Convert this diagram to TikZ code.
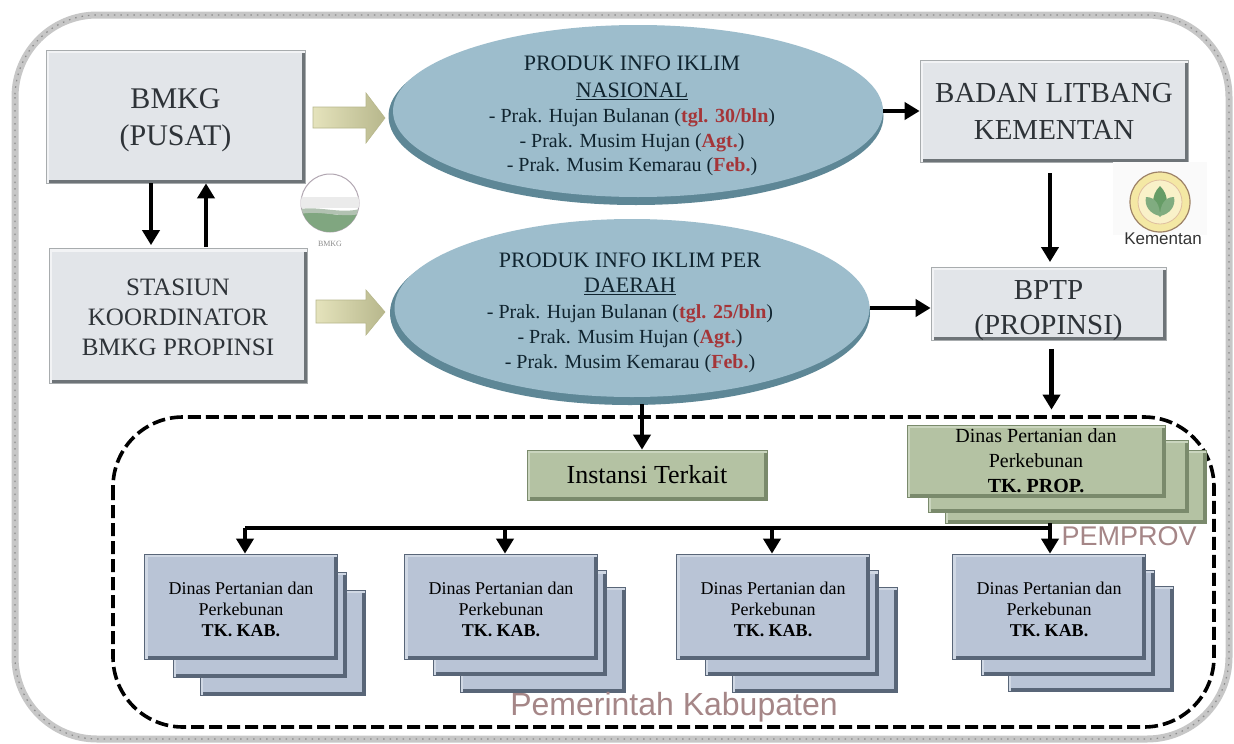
\documentclass[tikz,border=0pt]{standalone}
\usepackage{fontspec}
\setmainfont{Liberation Serif}
\newfontfamily\logosans{Liberation Sans}
\usetikzlibrary{shapes.geometric,arrows.meta,calc}
\definecolor{boxgray}{HTML}{E2E5E9}
\definecolor{boxedge}{HTML}{6E7478}
\definecolor{boxlight}{HTML}{F2F3F5}
\definecolor{ellfill}{HTML}{9DBDCC}
\definecolor{ellshadow}{HTML}{5E8796}
\definecolor{greenfill}{HTML}{B4C2A3}
\definecolor{greenedge}{HTML}{7A8A6C}
\definecolor{greenlight}{HTML}{CAD5BE}
\definecolor{bluefill}{HTML}{B9C4D6}
\definecolor{blueedge}{HTML}{596678}
\definecolor{bluelight}{HTML}{D0D8E4}
\definecolor{darktext}{HTML}{10242F}
\definecolor{boxtext}{HTML}{2E3338}
\definecolor{redtext}{HTML}{A53538}
\definecolor{arrowleft}{HTML}{E5E3BC}
\definecolor{arrowright}{HTML}{B7B78C}
\definecolor{labelpink}{HTML}{A58687}
\newcommand{\rd}[1]{\textbf{\textcolor{redtext}{#1}}}
\newcommand{\ttl}[1]{{\fontsize{22}{27}\selectfont #1}}
\tikzset{
  x=1pt,y=-1pt,
  bevelled/.style 2 args={path picture={
    \draw[line width=7pt,draw=#2] (path picture bounding box.north east) -- (path picture bounding box.south east) -- (path picture bounding box.south west);
    \draw[line width=6pt,draw=#1] (path picture bounding box.south west) -- (path picture bounding box.north west) -- (path picture bounding box.north east);
  }},
  graybox/.style={rectangle,inner sep=0pt,fill=boxgray,draw=boxedge!60,line width=.7pt,align=center,text=boxtext,bevelled={boxlight}{boxedge}},
  greenbox/.style={rectangle,inner sep=0pt,fill=greenfill,draw=greenedge,line width=.7pt,align=center,text=black,bevelled={greenlight}{greenedge}},
  bluebox/.style={rectangle,inner sep=0pt,fill=bluefill,draw=blueedge,line width=.7pt,align=center,text=black,bevelled={bluelight}{blueedge}},
  ellmain/.style={ellipse,inner sep=0pt,fill=ellfill},
  ellback/.style={ellipse,inner sep=0pt,fill=ellshadow},
  elltext/.style={inner sep=0pt,align=center,text=darktext},
  heavy/.style={line width=4.5pt,-{Triangle[length=15pt,width=17pt]},black},
  blockarrow/.style={left color=arrowleft,right color=arrowright,draw=arrowright,line width=.6pt},
  lbl/.style={inner sep=0pt,align=center},
}
\begin{document}
\begin{tikzpicture}
\useasboundingbox (0,0) rectangle (1234,744);
\fill[white] (0,0) rectangle (1234,744);
% outer frame
\draw[line width=7pt,draw=black!22,rounded corners=82pt] (15,15) rectangle (1229,739);
\draw[line width=1.2pt,draw=black!45,dash pattern=on 1.5pt off 5pt,rounded corners=82pt] (15,15) rectangle (1229,739);
% dashed region
\draw[line width=3.6pt,black,dash pattern=on 13pt off 5pt,rounded corners=70pt] (113,417) rectangle (1214,727);

% left boxes
\node[graybox,minimum width=259pt,minimum height=133pt,font=\fontsize{30}{37}\selectfont] (bmkg) at (175.5,116.5) {\rule{0pt}{28pt}BMKG\\(PUSAT)};
\node[graybox,minimum width=258pt,minimum height=135pt,font=\fontsize{25}{30}\selectfont] (stasiun) at (178,316) {\rule{0pt}{20pt}STASIUN\\KOORDINATOR\\BMKG PROPINSI};

% ellipses
\node[ellback,minimum width=495pt,minimum height=178pt] (e1s) at (636,116) {};
\node[ellmain,minimum width=490pt,minimum height=172pt] (e1) at (638,111) {};
\node[elltext,font=\fontsize{20}{24.5}\selectfont] (e1t) at (632,116) {\ttl{PRODUK INFO IKLIM}\\[2pt]\ttl{\underline{NASIONAL}}\\[1pt]- Prak. Hujan Bulanan (\rd{tgl. 30/bln})\\- Prak. Musim Hujan (\rd{Agt.})\\- Prak. Musim Kemarau (\rd{Feb.})};
\node[ellback,minimum width=480pt,minimum height=184pt] (e2s) at (630,313) {};
\node[ellmain,minimum width=475pt,minimum height=178pt] (e2) at (632,308) {};
\node[elltext,font=\fontsize{20}{25}\selectfont] (e2t) at (630,313) {\ttl{PRODUK INFO IKLIM PER}\\\ttl{\underline{DAERAH}}\\[1pt]- Prak. Hujan Bulanan (\rd{tgl. 25/bln})\\- Prak. Musim Hujan (\rd{Agt.})\\- Prak. Musim Kemarau (\rd{Feb.})};

% block arrows
\path[blockarrow] (313,107) -- (366,107) -- (366,93) -- (385,118) -- (366,143) -- (366,128) -- (313,128) -- cycle;
\path[blockarrow] (316,300) -- (366,300) -- (366,290) -- (385,312) -- (366,335) -- (366,323) -- (316,323) -- cycle;

% right boxes
\node[graybox,minimum width=268pt,minimum height=102pt,font=\fontsize{29}{37}\selectfont] (badan) at (1054,111) {BADAN LITBANG\\KEMENTAN};
\node[graybox,minimum width=235pt,minimum height=72pt,font=\fontsize{29}{35}\selectfont] (bptp) at (1048.5,304) {\rule{0pt}{32pt}BPTP\\(PROPINSI)};

% logos
\fill[black!2] (1113,162) rectangle (1207,235);
\node[circle,minimum size=58pt,inner sep=0pt,fill=white,draw=violet!25!black!35,line width=1pt] (bmkglogo) at (330,203) {};
\begin{scope}
\clip (330,203) circle (29);
\fill[black!8] (300,197) rectangle (360,208);
\fill[green!30!black!50] (300,213) .. controls (320,208) and (340,220) .. (360,213) -- (360,235) -- (300,235) -- cycle;
\fill[green!20!black!30] (300,209) .. controls (320,206) and (340,214) .. (360,209) -- (360,214) .. controls (340,218) and (320,210) .. (300,214) -- cycle;
\end{scope}
\node[lbl,text=black!45,font=\fontsize{8}{8}\selectfont] (bmkgtxt) at (330,244) {BMKG};
\node[circle,minimum size=60pt,inner sep=0pt,fill=brown!45!yellow!40!white,draw=brown!60!black!70,line width=1.2pt] (kemlogo) at (1160,202) {};
\node[circle,minimum size=44pt,inner sep=0pt,fill=yellow!15!white!90!brown,draw=brown!50,line width=.8pt] (keminner) at (1160,202) {};
\fill[green!35!black!60] (1160,186) .. controls (1170,196) and (1168,208) .. (1160,217) .. controls (1152,208) and (1150,196) .. (1160,186) -- cycle;
\fill[green!35!black!50] (1146,197) .. controls (1156,197) and (1160,206) .. (1160,216) .. controls (1150,214) and (1144,206) .. (1146,197) -- cycle;
\fill[green!35!black!50] (1174,197) .. controls (1164,197) and (1160,206) .. (1160,216) .. controls (1170,214) and (1176,206) .. (1174,197) -- cycle;
\node[lbl,text=black!80,font=\logosans\fontsize{17}{17}\selectfont] (kemtxt) at (1163,239) {Kementan};

% green
\node[greenbox,minimum width=261pt,minimum height=73pt] (g3) at (1075.5,486.5) {};
\node[greenbox,minimum width=260pt,minimum height=72pt] (g2) at (1058,476) {};
\node[greenbox,minimum width=258pt,minimum height=72pt,font=\fontsize{20}{25}\selectfont] (g1) at (1036,461) {Dinas Pertanian dan\\Perkebunan\\\textbf{TK. PROP.}};
\node[greenbox,minimum width=240pt,minimum height=50pt,font=\fontsize{26}{27}\selectfont] (inst) at (647,475) {Instansi Terkait};

% blue stacks
\foreach \n/\dx/\dy in {a/0/0,b/260/-3,c/532/-3,d/808/-4}{
  \node[bluebox,minimum width=165pt,minimum height=105pt] (\n3) at (282.5+\dx,642.5+\dy) {};
  \node[bluebox,minimum width=173pt,minimum height=105pt] (\n2) at (259.5+\dx,624.5+\dy/2) {};
  \node[bluebox,minimum width=193pt,minimum height=105pt,font=\fontsize{18}{21}\selectfont] (\n1) at (241+\dx,606.5) {\rule{0pt}{18pt}Dinas Pertanian dan\\Perkebunan\\\textbf{TK. KAB.}};
}

% labels
\node[lbl,text=labelpink,font=\logosans\fontsize{27}{27}\selectfont] (pemprov) at (1129,536) {PEMPROV};
\node[lbl,text=labelpink,font=\logosans\fontsize{32}{32}\selectfont] (pemkab) at (674,707) {Pemerintah Kabupaten};

% connectors
\coordinate (p1) at ([xshift=-24.5pt]bmkg.south);
\coordinate (p2) at ([yshift=3pt]stasiun.north);
\draw[heavy] (p1) -- (p1 |- p2);
\coordinate (p3) at ([xshift=28pt,yshift=1pt]stasiun.north);
\draw[heavy] (p3) -- (p3 |- bmkg.south);
\draw[heavy] (e1.east) -- (e1.east -| badan.west);
\draw[heavy] (e2.east) -- (e2.east -| bptp.west);
\coordinate (q1) at ([xshift=-4pt,yshift=-11pt]badan.south);
\coordinate (q2) at ([yshift=5pt]bptp.north);
\draw[heavy] (q1) -- (q1 |- q2);
\coordinate (r1) at ([xshift=3pt,yshift=-8pt]bptp.south);
\coordinate (r2) at ([yshift=15pt]g1.north);
\draw[heavy] (r1) -- (r1 |- r2);
\coordinate (istart) at ([xshift=12pt,yshift=1pt]e2s.south);
\draw[heavy] (istart) -- (istart |- inst.north);
\coordinate (busr) at (1050,528);
\coordinate (busa) at (245,528);
\coordinate (busb) at (505,528);
\coordinate (busc) at (772,528);
\draw[line width=4.5pt,black] (busa) -- (busr);
\draw[heavy] (g3.south -| busr) -- (busr |- d1.north);
\draw[heavy] (busa) -- (busa |- a1.north);
\draw[heavy] (busb) -- (busb |- b1.north);
\draw[heavy] (busc) -- (busc |- c1.north);
\end{tikzpicture}
\end{document}
